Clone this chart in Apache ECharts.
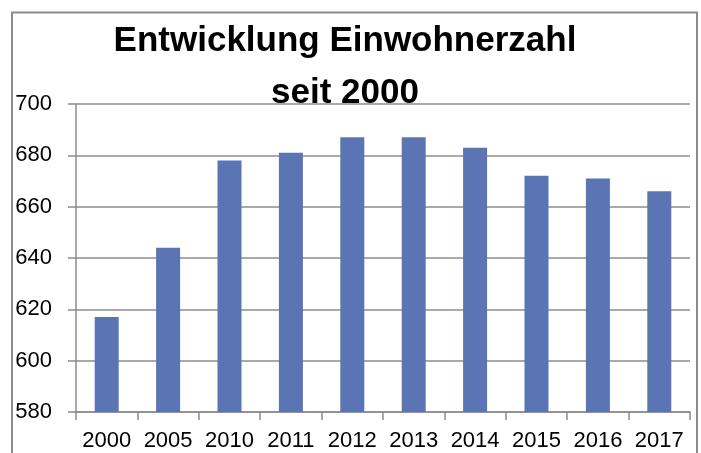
<!DOCTYPE html>
<html>
<head>
<meta charset="utf-8">
<script src="https://cdn.jsdelivr.net/npm/echarts@6/dist/echarts.min.js"></script>
<style>
  html, body { margin: 0; padding: 0; background: #fff; }
  #chart { width: 701px; height: 453px; }
</style>
</head>
<body>
<div id="chart"></div>
<script>
(function () {
    'use strict';

    // Jahre und Einwohnerzahlen
    const years = ['2000', '2005', '2010', '2011', '2012', '2013', '2014', '2015', '2016', '2017'];
    const residents = [617, 644, 678, 681, 687, 687, 683, 672, 671, 666];

    const fontFamily = '"Liberation Sans Narrow", "Liberation Sans", Arial, sans-serif';
    const gray = '#8c8c8c';

    const chart = echarts.init(document.getElementById('chart'), null, { renderer: 'canvas' });

    chart.setOption({
        animation: false,
        backgroundColor: '#fff',
        title: {
            text: 'Entwicklung Einwohnerzahl\nseit 2000',
            left: 345,
            top: 15,
            padding: 0,
            textAlign: 'center',
            textStyle: {
                fontFamily: fontFamily,
                fontWeight: 'bold',
                fontSize: 35,
                lineHeight: 52,
                color: '#000'
            },
            z: 10
        },
        graphic: [{
            type: 'rect',
            shape: { x: 12, y: 12.5, width: 685, height: 470 },
            style: { fill: 'none', stroke: gray, lineWidth: 2 },
            silent: true
        }],
        grid: { left: 76, right: 11, top: 104, bottom: 41 },
        xAxis: {
            type: 'category',
            data: years,
            axisLine: { lineStyle: { color: gray, width: 1.5 } },
            axisTick: { show: true, length: 8, lineStyle: { color: gray, width: 1.5 } },
            axisLabel: {
                interval: 0,
                margin: 18,
                fontFamily: fontFamily,
                fontSize: 22,
                color: '#000'
            }
        },
        yAxis: {
            type: 'value',
            min: 580,
            max: 700,
            interval: 20,
            axisLine: { show: true, lineStyle: { color: gray, width: 1.5 } },
            axisTick: { show: true, length: 8, lineStyle: { color: gray, width: 1.5 } },
            splitLine: { lineStyle: { color: gray, width: 1.5 } },
            axisLabel: {
                margin: 24,
                fontFamily: fontFamily,
                fontSize: 22,
                color: '#000'
            }
        },
        series: [{
            type: 'bar',
            data: residents,
            barWidth: 24,
            itemStyle: { color: '#5b74b4' }
        }]
    });
}());
</script>
</body>
</html>
